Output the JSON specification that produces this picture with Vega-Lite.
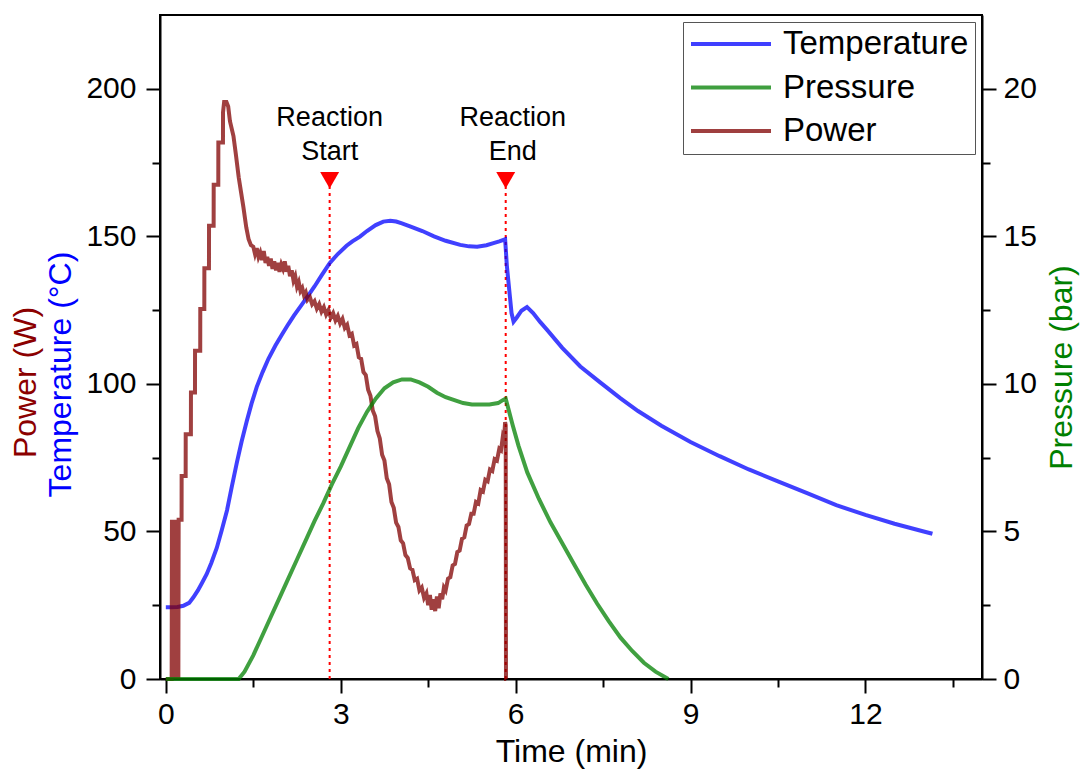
{
  "$schema": "https://vega.github.io/schema/vega-lite/v6.json",
  "width": 822,
  "height": 664,
  "autosize": {"type": "none"},
  "padding": {"left": 160, "top": 15, "right": 107, "bottom": 93},
  "background": "white",
  "config": {
    "font": "Liberation Sans",
    "view": {"stroke": "black", "strokeWidth": 2},
    "axis": {
      "grid": false, "domainColor": "black", "domainWidth": 2, "tickColor": "black", "tickWidth": 2,
      "labelColor": "black", "labelFont": "Liberation Sans", "labelFontSize": 30,
      "titleFont": "Liberation Sans", "titleFontSize": 32, "titleFontWeight": "normal", "titleColor": "black",
      "labelFlush": false, "labelOverlap": false
    }
  },
  "datasets": {
    "tp": [
      {"t": 0, "v": 24.3, "series": "Temperature"}, {"t": 0.1, "v": 24.3, "series": "Temperature"}, {"t": 0.2, "v": 24.4, "series": "Temperature"}, {"t": 0.3, "v": 24.8, "series": "Temperature"}, {"t": 0.4, "v": 25.8, "series": "Temperature"}, {"t": 0.47, "v": 27.6, "series": "Temperature"}, {"t": 0.55, "v": 30, "series": "Temperature"}, {"t": 0.62, "v": 32.5, "series": "Temperature"}, {"t": 0.7, "v": 35.5, "series": "Temperature"}, {"t": 0.78, "v": 39.3, "series": "Temperature"}, {"t": 0.875, "v": 44.5, "series": "Temperature"}, {"t": 0.96, "v": 50.5, "series": "Temperature"}, {"t": 1.05, "v": 57.2, "series": "Temperature"}, {"t": 1.13, "v": 65, "series": "Temperature"}, {"t": 1.22, "v": 73.5, "series": "Temperature"}, {"t": 1.3, "v": 80.5, "series": "Temperature"}, {"t": 1.39, "v": 87.5, "series": "Temperature"}, {"t": 1.47, "v": 93.3, "series": "Temperature"}, {"t": 1.56, "v": 99, "series": "Temperature"}, {"t": 1.66, "v": 104, "series": "Temperature"}, {"t": 1.76, "v": 108.5, "series": "Temperature"}, {"t": 1.88, "v": 113, "series": "Temperature"}, {"t": 2.0, "v": 117, "series": "Temperature"}, {"t": 2.1, "v": 120.2, "series": "Temperature"}, {"t": 2.2, "v": 123.2, "series": "Temperature"}, {"t": 2.32, "v": 126.5, "series": "Temperature"}, {"t": 2.43, "v": 129.6, "series": "Temperature"}, {"t": 2.55, "v": 133, "series": "Temperature"}, {"t": 2.68, "v": 137, "series": "Temperature"}, {"t": 2.81, "v": 140.9, "series": "Temperature"}, {"t": 2.95, "v": 144, "series": "Temperature"}, {"t": 3.1, "v": 146.8, "series": "Temperature"}, {"t": 3.2, "v": 148.3, "series": "Temperature"}, {"t": 3.33, "v": 149.9, "series": "Temperature"}, {"t": 3.45, "v": 151.8, "series": "Temperature"}, {"t": 3.6, "v": 153.8, "series": "Temperature"}, {"t": 3.73, "v": 155, "series": "Temperature"}, {"t": 3.85, "v": 155.3, "series": "Temperature"}, {"t": 3.95, "v": 155, "series": "Temperature"}, {"t": 4.05, "v": 154.4, "series": "Temperature"}, {"t": 4.2, "v": 153.3, "series": "Temperature"}, {"t": 4.4, "v": 151.8, "series": "Temperature"}, {"t": 4.6, "v": 150, "series": "Temperature"}, {"t": 4.8, "v": 148.5, "series": "Temperature"}, {"t": 5.05, "v": 147.1, "series": "Temperature"}, {"t": 5.2, "v": 146.6, "series": "Temperature"}, {"t": 5.34, "v": 146.5, "series": "Temperature"}, {"t": 5.5, "v": 147, "series": "Temperature"}, {"t": 5.62, "v": 147.7, "series": "Temperature"}, {"t": 5.72, "v": 148.3, "series": "Temperature"}, {"t": 5.82, "v": 149, "series": "Temperature"}, {"t": 5.85, "v": 140, "series": "Temperature"}, {"t": 5.9, "v": 130, "series": "Temperature"}, {"t": 5.93, "v": 124, "series": "Temperature"}, {"t": 5.965, "v": 121.1, "series": "Temperature"}, {"t": 6.02, "v": 122.5, "series": "Temperature"}, {"t": 6.1, "v": 124.8, "series": "Temperature"}, {"t": 6.195, "v": 126, "series": "Temperature"}, {"t": 6.3, "v": 124, "series": "Temperature"}, {"t": 6.42, "v": 121, "series": "Temperature"}, {"t": 6.54, "v": 118.3, "series": "Temperature"}, {"t": 6.8, "v": 112.2, "series": "Temperature"}, {"t": 7.11, "v": 105.9, "series": "Temperature"}, {"t": 7.45, "v": 100.5, "series": "Temperature"}, {"t": 7.8, "v": 95.1, "series": "Temperature"}, {"t": 8.1, "v": 90.8, "series": "Temperature"}, {"t": 8.5, "v": 85.8, "series": "Temperature"}, {"t": 9.0, "v": 80.3, "series": "Temperature"}, {"t": 9.5, "v": 75.5, "series": "Temperature"}, {"t": 10.0, "v": 71, "series": "Temperature"}, {"t": 10.5, "v": 67, "series": "Temperature"}, {"t": 11.0, "v": 63, "series": "Temperature"}, {"t": 11.5, "v": 58.9, "series": "Temperature"}, {"t": 12.0, "v": 55.6, "series": "Temperature"}, {"t": 12.5, "v": 52.6, "series": "Temperature"}, {"t": 13.0, "v": 50, "series": "Temperature"}, {"t": 13.15, "v": 49.2, "series": "Temperature"},
      {"t": 0, "v": 0, "series": "Power"}, {"t": 0.1, "v": 0, "series": "Power"}, {"t": 0.105, "v": 54, "series": "Power"}, {"t": 0.115, "v": 0, "series": "Power"}, {"t": 0.125, "v": 54, "series": "Power"}, {"t": 0.135, "v": 0, "series": "Power"}, {"t": 0.145, "v": 54, "series": "Power"}, {"t": 0.155, "v": 0, "series": "Power"}, {"t": 0.165, "v": 54, "series": "Power"}, {"t": 0.175, "v": 0, "series": "Power"}, {"t": 0.185, "v": 54, "series": "Power"}, {"t": 0.195, "v": 0, "series": "Power"}, {"t": 0.205, "v": 54, "series": "Power"}, {"t": 0.215, "v": 0, "series": "Power"}, {"t": 0.22, "v": 54, "series": "Power"},
      {"t": 0.27, "v": 54, "series": "Power"}, {"t": 0.271, "v": 68.8, "series": "Power"}, {"t": 0.34, "v": 68.8, "series": "Power"}, {"t": 0.341, "v": 82.9, "series": "Power"}, {"t": 0.43, "v": 82.9, "series": "Power"}, {"t": 0.431, "v": 97.1, "series": "Power"}, {"t": 0.5, "v": 97.1, "series": "Power"}, {"t": 0.501, "v": 111.2, "series": "Power"}, {"t": 0.59, "v": 111.2, "series": "Power"}, {"t": 0.591, "v": 125.4, "series": "Power"}, {"t": 0.66, "v": 125.4, "series": "Power"}, {"t": 0.661, "v": 139.2, "series": "Power"}, {"t": 0.74, "v": 139.2, "series": "Power"}, {"t": 0.741, "v": 153.6, "series": "Power"}, {"t": 0.82, "v": 153.6, "series": "Power"}, {"t": 0.821, "v": 167.5, "series": "Power"}, {"t": 0.9, "v": 167.5, "series": "Power"}, {"t": 0.901, "v": 181.8, "series": "Power"}, {"t": 0.98, "v": 181.8, "series": "Power"}, {"t": 0.981, "v": 192, "series": "Power"}, {"t": 1.0, "v": 195.5, "series": "Power"}, {"t": 1.04, "v": 195.5, "series": "Power"}, {"t": 1.07, "v": 194, "series": "Power"}, {"t": 1.1, "v": 189, "series": "Power"}, {"t": 1.16, "v": 184, "series": "Power"}, {"t": 1.2, "v": 178, "series": "Power"}, {"t": 1.25, "v": 170, "series": "Power"}, {"t": 1.29, "v": 165, "series": "Power"}, {"t": 1.33, "v": 160, "series": "Power"}, {"t": 1.38, "v": 153, "series": "Power"}, {"t": 1.42, "v": 149, "series": "Power"}, {"t": 1.46, "v": 147, "series": "Power"}, {"t": 1.5, "v": 146.5, "series": "Power"}, {"t": 1.53, "v": 144, "series": "Power"}, {"t": 1.56, "v": 146, "series": "Power"}, {"t": 1.59, "v": 143, "series": "Power"}, {"t": 1.62, "v": 144.5, "series": "Power"}, {"t": 1.65, "v": 142, "series": "Power"}, {"t": 1.68, "v": 145, "series": "Power"}, {"t": 1.71, "v": 141, "series": "Power"}, {"t": 1.74, "v": 143, "series": "Power"}, {"t": 1.77, "v": 140, "series": "Power"}, {"t": 1.8, "v": 142.5, "series": "Power"}, {"t": 1.83, "v": 139, "series": "Power"}, {"t": 1.86, "v": 141.5, "series": "Power"}, {"t": 1.89, "v": 138.5, "series": "Power"}, {"t": 1.92, "v": 141, "series": "Power"}, {"t": 1.95, "v": 138, "series": "Power"}, {"t": 1.98, "v": 140.5, "series": "Power"}, {"t": 2.01, "v": 139, "series": "Power"}, {"t": 2.04, "v": 141.5, "series": "Power"}, {"t": 2.07, "v": 138, "series": "Power"}, {"t": 2.1, "v": 140, "series": "Power"}, {"t": 2.13, "v": 136.5, "series": "Power"}, {"t": 2.16, "v": 138.5, "series": "Power"}, {"t": 2.19, "v": 135, "series": "Power"}, {"t": 2.22, "v": 136.5, "series": "Power"}, {"t": 2.25, "v": 133, "series": "Power"}, {"t": 2.28, "v": 134.5, "series": "Power"}, {"t": 2.31, "v": 131.5, "series": "Power"}, {"t": 2.34, "v": 132.5, "series": "Power"}, {"t": 2.37, "v": 130, "series": "Power"}, {"t": 2.4, "v": 131, "series": "Power"}, {"t": 2.43, "v": 128.5, "series": "Power"}, {"t": 2.47, "v": 129.5, "series": "Power"}, {"t": 2.51, "v": 127, "series": "Power"}, {"t": 2.55, "v": 128, "series": "Power"}, {"t": 2.59, "v": 125.5, "series": "Power"}, {"t": 2.63, "v": 127, "series": "Power"}, {"t": 2.67, "v": 124.5, "series": "Power"}, {"t": 2.71, "v": 126, "series": "Power"}, {"t": 2.75, "v": 123.5, "series": "Power"}, {"t": 2.79, "v": 125, "series": "Power"}, {"t": 2.83, "v": 122.5, "series": "Power"}, {"t": 2.87, "v": 124, "series": "Power"}, {"t": 2.91, "v": 121.5, "series": "Power"}, {"t": 2.95, "v": 123, "series": "Power"}, {"t": 2.99, "v": 120.5, "series": "Power"}, {"t": 3.03, "v": 122, "series": "Power"}, {"t": 3.07, "v": 119, "series": "Power"}, {"t": 3.11, "v": 120, "series": "Power"}, {"t": 3.15, "v": 116.5, "series": "Power"}, {"t": 3.19, "v": 117, "series": "Power"}, {"t": 3.23, "v": 113, "series": "Power"}, {"t": 3.27, "v": 113.5, "series": "Power"}, {"t": 3.31, "v": 109, "series": "Power"}, {"t": 3.35, "v": 108.5, "series": "Power"}, {"t": 3.39, "v": 104, "series": "Power"}, {"t": 3.43, "v": 103, "series": "Power"}, {"t": 3.47, "v": 98, "series": "Power"}, {"t": 3.51, "v": 96, "series": "Power"}, {"t": 3.55, "v": 91, "series": "Power"}, {"t": 3.59, "v": 89, "series": "Power"}, {"t": 3.63, "v": 84, "series": "Power"}, {"t": 3.67, "v": 81.5, "series": "Power"}, {"t": 3.71, "v": 76, "series": "Power"}, {"t": 3.75, "v": 74, "series": "Power"}, {"t": 3.79, "v": 68, "series": "Power"}, {"t": 3.83, "v": 66, "series": "Power"}, {"t": 3.87, "v": 60, "series": "Power"}, {"t": 3.91, "v": 58, "series": "Power"}, {"t": 3.95, "v": 53, "series": "Power"}, {"t": 3.99, "v": 51.5, "series": "Power"}, {"t": 4.03, "v": 47, "series": "Power"}, {"t": 4.07, "v": 46, "series": "Power"}, {"t": 4.11, "v": 42, "series": "Power"}, {"t": 4.15, "v": 41, "series": "Power"}, {"t": 4.19, "v": 37.5, "series": "Power"}, {"t": 4.23, "v": 37, "series": "Power"}, {"t": 4.27, "v": 33.5, "series": "Power"}, {"t": 4.31, "v": 34, "series": "Power"}, {"t": 4.35, "v": 30, "series": "Power"}, {"t": 4.39, "v": 31, "series": "Power"}, {"t": 4.43, "v": 27.5, "series": "Power"}, {"t": 4.47, "v": 29, "series": "Power"}, {"t": 4.5, "v": 25, "series": "Power"}, {"t": 4.53, "v": 28.5, "series": "Power"}, {"t": 4.56, "v": 23.5, "series": "Power"}, {"t": 4.59, "v": 27, "series": "Power"}, {"t": 4.62, "v": 23, "series": "Power"}, {"t": 4.65, "v": 28, "series": "Power"}, {"t": 4.68, "v": 24, "series": "Power"}, {"t": 4.71, "v": 29, "series": "Power"}, {"t": 4.74, "v": 27, "series": "Power"}, {"t": 4.77, "v": 31, "series": "Power"}, {"t": 4.8, "v": 30, "series": "Power"}, {"t": 4.84, "v": 34, "series": "Power"}, {"t": 4.88, "v": 34.5, "series": "Power"}, {"t": 4.92, "v": 38.5, "series": "Power"}, {"t": 4.96, "v": 39, "series": "Power"}, {"t": 5.0, "v": 43, "series": "Power"}, {"t": 5.04, "v": 43.5, "series": "Power"}, {"t": 5.08, "v": 47.5, "series": "Power"}, {"t": 5.12, "v": 48, "series": "Power"}, {"t": 5.16, "v": 52, "series": "Power"}, {"t": 5.2, "v": 52.5, "series": "Power"}, {"t": 5.24, "v": 56, "series": "Power"}, {"t": 5.28, "v": 56, "series": "Power"}, {"t": 5.32, "v": 60, "series": "Power"}, {"t": 5.36, "v": 59.5, "series": "Power"}, {"t": 5.4, "v": 64, "series": "Power"}, {"t": 5.44, "v": 63.5, "series": "Power"}, {"t": 5.48, "v": 67.5, "series": "Power"}, {"t": 5.52, "v": 67, "series": "Power"}, {"t": 5.56, "v": 71, "series": "Power"}, {"t": 5.6, "v": 70.5, "series": "Power"}, {"t": 5.64, "v": 74.5, "series": "Power"}, {"t": 5.68, "v": 74, "series": "Power"}, {"t": 5.72, "v": 78, "series": "Power"}, {"t": 5.75, "v": 77.5, "series": "Power"}, {"t": 5.78, "v": 82, "series": "Power"}, {"t": 5.8, "v": 81, "series": "Power"}, {"t": 5.82, "v": 87, "series": "Power"}, {"t": 5.83, "v": 86, "series": "Power"}, {"t": 5.835, "v": 0, "series": "Power"}, {"t": 5.84, "v": 0, "series": "Power"}
    ],
    "pres": [
      {"t": 0, "p": 0, "series": "Pressure"}, {"t": 1.25, "p": 0, "series": "Pressure"}, {"t": 1.35, "p": 0.25, "series": "Pressure"}, {"t": 1.5, "p": 0.8, "series": "Pressure"}, {"t": 1.65, "p": 1.45, "series": "Pressure"}, {"t": 1.8, "p": 2.1, "series": "Pressure"}, {"t": 1.95, "p": 2.75, "series": "Pressure"}, {"t": 2.1, "p": 3.4, "series": "Pressure"}, {"t": 2.25, "p": 4.05, "series": "Pressure"}, {"t": 2.4, "p": 4.7, "series": "Pressure"}, {"t": 2.55, "p": 5.35, "series": "Pressure"}, {"t": 2.7, "p": 5.95, "series": "Pressure"}, {"t": 2.85, "p": 6.6, "series": "Pressure"}, {"t": 3.0, "p": 7.2, "series": "Pressure"}, {"t": 3.15, "p": 7.85, "series": "Pressure"}, {"t": 3.3, "p": 8.5, "series": "Pressure"}, {"t": 3.45, "p": 9.05, "series": "Pressure"}, {"t": 3.6, "p": 9.5, "series": "Pressure"}, {"t": 3.75, "p": 9.85, "series": "Pressure"}, {"t": 3.9, "p": 10.05, "series": "Pressure"}, {"t": 4.05, "p": 10.15, "series": "Pressure"}, {"t": 4.2, "p": 10.15, "series": "Pressure"}, {"t": 4.35, "p": 10.05, "series": "Pressure"}, {"t": 4.5, "p": 9.9, "series": "Pressure"}, {"t": 4.65, "p": 9.7, "series": "Pressure"}, {"t": 4.8, "p": 9.55, "series": "Pressure"}, {"t": 4.95, "p": 9.45, "series": "Pressure"}, {"t": 5.1, "p": 9.35, "series": "Pressure"}, {"t": 5.25, "p": 9.3, "series": "Pressure"}, {"t": 5.4, "p": 9.3, "series": "Pressure"}, {"t": 5.55, "p": 9.3, "series": "Pressure"}, {"t": 5.7, "p": 9.35, "series": "Pressure"}, {"t": 5.78, "p": 9.45, "series": "Pressure"}, {"t": 5.83, "p": 9.5, "series": "Pressure"}, {"t": 5.87, "p": 9.2, "series": "Pressure"}, {"t": 5.95, "p": 8.6, "series": "Pressure"}, {"t": 6.05, "p": 7.9, "series": "Pressure"}, {"t": 6.2, "p": 7.0, "series": "Pressure"}, {"t": 6.4, "p": 6.1, "series": "Pressure"}, {"t": 6.6, "p": 5.3, "series": "Pressure"}, {"t": 6.8, "p": 4.6, "series": "Pressure"}, {"t": 7.0, "p": 3.9, "series": "Pressure"}, {"t": 7.2, "p": 3.2, "series": "Pressure"}, {"t": 7.4, "p": 2.55, "series": "Pressure"}, {"t": 7.6, "p": 1.95, "series": "Pressure"}, {"t": 7.8, "p": 1.4, "series": "Pressure"}, {"t": 8.0, "p": 0.95, "series": "Pressure"}, {"t": 8.2, "p": 0.55, "series": "Pressure"}, {"t": 8.4, "p": 0.25, "series": "Pressure"}, {"t": 8.62, "p": 0, "series": "Pressure"}
    ],
    "events": [
      {"t": 2.81, "event": "Start", "label": "Reaction\nStart"},
      {"t": 5.83, "event": "End", "label": "Reaction\nEnd"}
    ]
  },
  "layer": [
    {
      "layer": [
        {
          "data": {"name": "events"},
          "mark": {"type": "rule", "color": "#FF0000", "strokeWidth": 2, "strokeDash": [3, 4]},
          "encoding": {
            "x": {"field": "t", "type": "quantitative", "axis": null},
            "y": {"datum": 0, "type": "quantitative", "axis": {"orient": "left", "title": "Power (W)", "titleColor": "#8B0000", "labels": false, "ticks": false, "domain": false, "titlePadding": 118, "titleY": 367}},
            "y2": {"datum": 167}
          }
        },
        {
          "data": {"name": "events"},
          "mark": {"type": "point", "shape": "triangle-down", "filled": true, "color": "#FF0000", "size": 360, "opacity": 1},
          "encoding": {
            "x": {"field": "t", "type": "quantitative", "axis": {"orient": "bottom", "values": [1.5, 4.5, 7.5, 10.5, 13.5], "labels": false, "domain": false, "tickSize": 8, "title": null}},
            "y": {"datum": 169, "type": "quantitative", "axis": {"orient": "right", "values": [25, 75, 125, 175], "labels": false, "domain": false, "tickSize": 8, "title": null}}
          }
        },
        {
          "data": {"name": "events"},
          "transform": [{"filter": "datum.event == 'Start'"}],
          "mark": {"type": "text", "fontSize": 27, "baseline": "bottom", "align": "center", "lineBreak": "\n", "lineHeight": 34, "color": "black"},
          "encoding": {
            "x": {"field": "t", "type": "quantitative", "axis": null},
            "y": {"datum": 185.5, "type": "quantitative", "axis": {"orient": "left", "values": [25, 75, 125, 175], "labels": false, "domain": false, "tickSize": 8, "title": null}},
            "text": {"field": "label"}
          }
        },
        {
          "data": {"name": "events"},
          "transform": [{"filter": "datum.event == 'End'"}],
          "mark": {"type": "text", "fontSize": 27, "baseline": "bottom", "align": "center", "lineBreak": "\n", "lineHeight": 34, "color": "black", "dx": 7},
          "encoding": {
            "x": {"field": "t", "type": "quantitative", "axis": null},
            "y": {"datum": 185.5, "type": "quantitative", "axis": null},
            "text": {"field": "label"}
          }
        },
        {
          "data": {"name": "tp"},
          "mark": {"type": "line", "strokeWidth": 4, "opacity": 0.75},
          "encoding": {
            "x": {"field": "t", "type": "quantitative", "scale": {"domain": [-0.1, 14.0], "nice": false, "zero": false},
                  "axis": {"orient": "bottom", "values": [0, 3, 6, 9, 12], "title": "Time (min)", "tickSize": 14, "labelPadding": 6, "titlePadding": 7}},
            "y": {"field": "v", "type": "quantitative", "scale": {"domain": [0, 225], "nice": false, "zero": false},
                  "axis": {"orient": "left", "values": [0, 50, 100, 150, 200], "tickSize": 14, "labelPadding": 10, "title": "Temperature (°C)", "titleColor": "#0000FF", "titlePadding": 8, "titleY": 359}},
            "color": {"field": "series", "type": "nominal",
                      "scale": {"domain": ["Temperature", "Pressure", "Power"], "range": ["#0000FF", "#008000", "#800000"]},
                      "legend": {"title": null, "orient": "none", "legendX": 523, "legendY": 7, "symbolType": "stroke", "symbolSize": 6400, "symbolStrokeWidth": 4, "symbolOpacity": 1, "clipHeight": 32, "rowPadding": 10.5, "labelFontSize": 33, "labelFont": "Liberation Sans", "labelColor": "black", "labelOffset": 10, "labelLimit": 0, "padding": 6, "strokeColor": "#555555", "fillColor": "white"}},
            "detail": {"field": "series"}
          }
        }
      ],
      "resolve": {"axis": {"x": "independent", "y": "independent"}}
    },
    {
      "data": {"name": "pres"},
      "mark": {"type": "line", "strokeWidth": 4, "opacity": 0.75},
      "encoding": {
        "x": {"field": "t", "type": "quantitative", "axis": null},
        "y": {"field": "p", "type": "quantitative", "scale": {"domain": [0, 22.5], "nice": false, "zero": false},
              "axis": {"orient": "right", "values": [0, 5, 10, 15, 20], "tickSize": 14, "labelPadding": 7, "title": "Pressure (bar)", "titleColor": "#008000", "titleAngle": 270, "titleBaseline": "top", "titlePadding": 10, "titleY": 352}},
        "color": {"field": "series", "type": "nominal",
                  "scale": {"domain": ["Temperature", "Pressure", "Power"], "range": ["#0000FF", "#008000", "#800000"]}}
      }
    }
  ],
  "resolve": {"scale": {"y": "independent"}, "axis": {"x": "independent", "y": "independent"}}
}
